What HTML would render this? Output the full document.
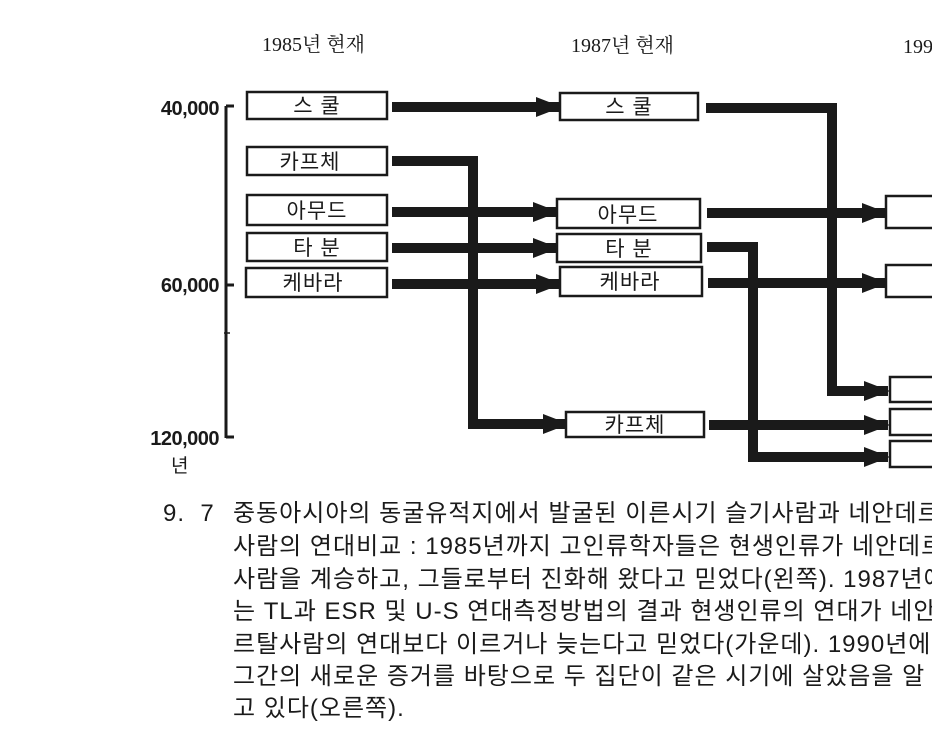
<!DOCTYPE html>
<html><head><meta charset="utf-8">
<style>
html,body{margin:0;padding:0;background:#fff;}
body{width:932px;height:754px;overflow:hidden;position:relative;}
svg{position:absolute;left:0;top:0;}
.cap{position:absolute;font-family:"Liberation Sans","Noto Sans CJK KR",sans-serif;font-size:24px;line-height:28px;color:#1a1a1a;white-space:nowrap;letter-spacing:1px;}
</style></head><body>
<svg width="932" height="754" xmlns="http://www.w3.org/2000/svg" font-family="Liberation Serif, Noto Serif CJK SC, serif">
<defs>
<marker id="ah" markerWidth="26" markerHeight="20" refX="24" refY="10" orient="auto" markerUnits="userSpaceOnUse">
<path d="M0,0 L26,10 L0,20 Z" fill="#1a1a1a"/>
</marker>
</defs>
<g fill="#1a1a1a" font-size="20">
<text x="262" y="51">1985년 현재</text>
<text x="571" y="52">1987년 현재</text>
<text x="903" y="53">199</text>
</g>
<g stroke="#1a1a1a" stroke-width="3" fill="none">
<line x1="226" y1="106" x2="226" y2="438"/>
<line x1="226" y1="106" x2="234" y2="106"/>
<line x1="226" y1="285" x2="234" y2="285"/>
<line x1="224" y1="333" x2="230" y2="333" stroke-width="1.5"/>
<line x1="226" y1="437" x2="234" y2="437"/>
</g>
<g font-family="Liberation Sans, Noto Sans CJK KR, sans-serif" font-weight="bold" font-size="20" fill="#1a1a1a" text-anchor="end" letter-spacing="-0.5">
<text x="219" y="115">40,000</text>
<text x="219" y="292">60,000</text>
<text x="219" y="445">120,000</text>
<text x="188" y="472" font-size="19" font-weight="normal">년</text>
</g>
<g stroke="#1a1a1a" stroke-width="10" fill="none" marker-end="url(#ah)">
<path d="M392,107 H560"/>
<path d="M392,161 H473 V424 H567"/>
<path d="M392,212 H557"/>
<path d="M392,248 H557"/>
<path d="M392,284 H560"/>
<path d="M706,108 H832 V391 H888"/>
<path d="M707,213 H886"/>
<path d="M707,247 H753 V457 H888"/>
<path d="M708,283 H886"/>
<path d="M709,425 H888"/>
</g>
<g fill="#fff" stroke="#1a1a1a" stroke-width="2.5">
<rect x="247" y="92" width="140" height="27"/>
<rect x="247" y="147" width="140" height="28"/>
<rect x="247" y="195" width="140" height="30"/>
<rect x="247" y="233" width="140" height="28"/>
<rect x="246" y="268" width="141" height="29"/>
<rect x="560" y="93" width="138" height="27"/>
<rect x="557" y="199" width="143" height="29"/>
<rect x="557" y="234" width="144" height="28"/>
<rect x="560" y="267" width="142" height="29"/>
<rect x="566" y="412" width="138" height="25"/>
<rect x="886" y="196" width="60" height="32"/>
<rect x="886" y="265" width="60" height="32"/>
<rect x="890" y="377" width="60" height="25"/>
<rect x="890" y="409" width="60" height="26"/>
<rect x="890" y="441" width="60" height="26"/>
</g>
<g font-family="Liberation Sans, Noto Sans CJK KR, sans-serif" font-size="21" fill="#1a1a1a" text-anchor="middle" letter-spacing="1">
<text x="317" y="113">스 쿨</text>
<text x="310" y="169">카프체</text>
<text x="317" y="218">아무드</text>
<text x="317" y="255">타 분</text>
<text x="313" y="290">케바라</text>
<text x="629" y="114">스 쿨</text>
<text x="628" y="222">아무드</text>
<text x="629" y="256">타 분</text>
<text x="630" y="289">케바라</text>
<text x="635" y="432">카프체</text>
<text x="963" y="220">아무드</text>
<text x="963" y="289">케바라</text>
<text x="965" y="429">카프체</text>
</g>
</svg>
<div class="cap" style="left:163px;top:500px;">9.&nbsp; 7</div>
<div class="cap" style="left:233px;top:500px;">중동아시아의 동굴유적지에서 발굴된 이른시기 슬기사람과 네안데르탈</div>
<div class="cap" style="left:233px;top:533px;">사람의 연대비교 : 1985년까지 고인류학자들은 현생인류가 네안데르탈</div>
<div class="cap" style="left:233px;top:566px;">사람을 계승하고, 그들로부터 진화해 왔다고 믿었다(왼쪽). 1987년에</div>
<div class="cap" style="left:233px;top:598px;">는 TL과 ESR 및 U-S 연대측정방법의 결과 현생인류의 연대가 네안데</div>
<div class="cap" style="left:233px;top:631px;">르탈사람의 연대보다 이르거나 늦는다고 믿었다(가운데). 1990년에는</div>
<div class="cap" style="left:233px;top:663px;">그간의 새로운 증거를 바탕으로 두 집단이 같은 시기에 살았음을 알</div>
<div class="cap" style="left:233px;top:695px;">고 있다(오른쪽).</div>
</body></html>
